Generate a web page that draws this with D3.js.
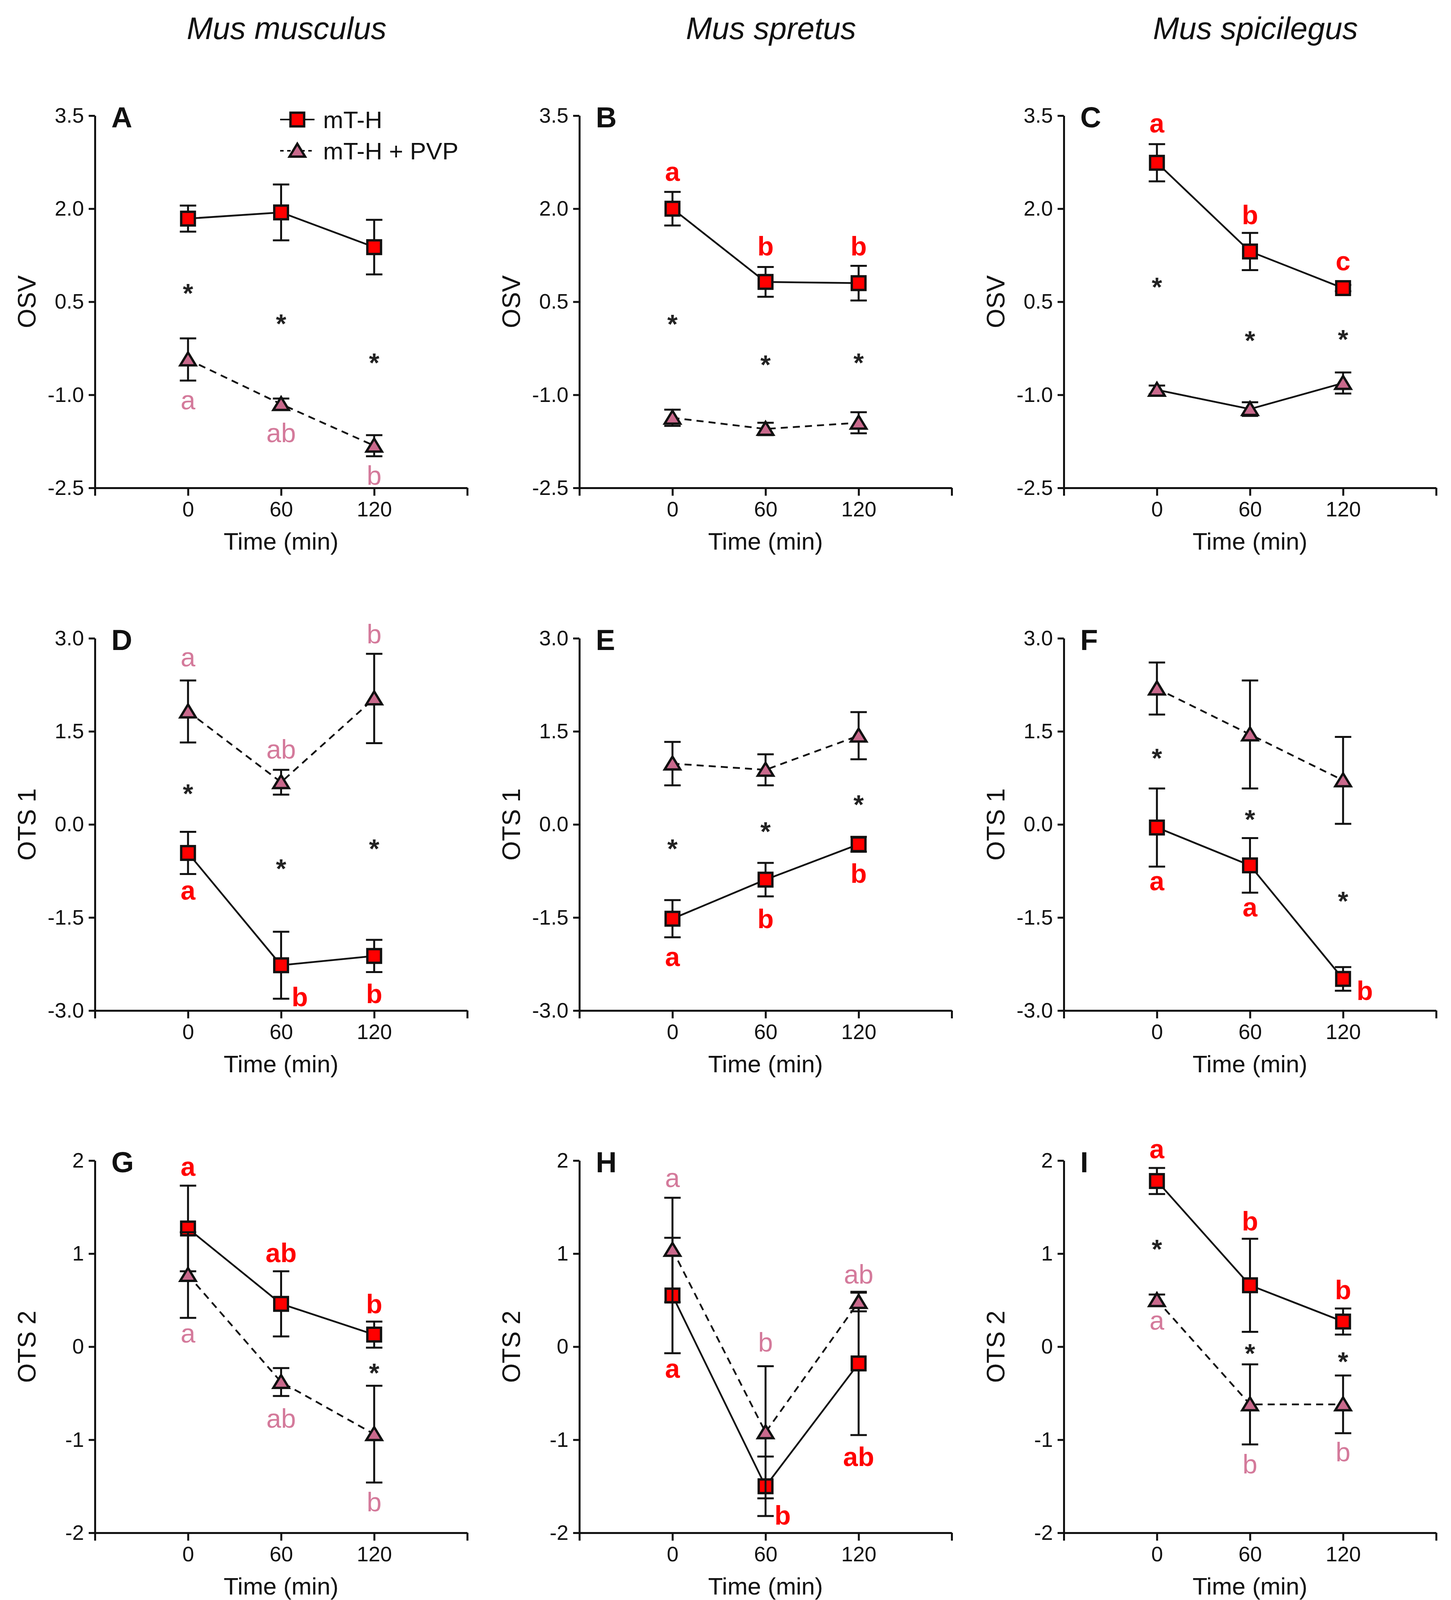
<!DOCTYPE html>
<html>
<head>
<meta charset="utf-8">
<script src="https://cdn.jsdelivr.net/npm/d3@7"></script>
<style>
  body { margin: 0; background: #fff; }
  text { font-family: 'Liberation Sans', Arial, sans-serif; }
</style>
</head>
<body>
<div id="box-div"></div>
<script>
// ---- data ----
const times = [0, 60, 120]
const speciesTitles = ['Mus musculus', 'Mus spretus', 'Mus spicilegus']
const rowMeasures = ['OSV', 'OTS 1', 'OTS 2']
const rowDomains = [[-2.5, 3.5], [-3, 3], [-2, 2]]
const rowTicks = [[-2.5, -1.0, 0.5, 2.0, 3.5], [-3.0, -1.5, 0.0, 1.5, 3.0], [-2, -1, 0, 1, 2]]
const rowTickFormat = ['.1f', '.1f', 'd']
const xTicks = [-60, 0, 60, 120, 180]
const xTickLabels = ['', '0', '60', '120', '']
const panelLetters = ['A', 'B', 'C', 'D', 'E', 'F', 'G', 'H', 'I']
const seriesNames = ['mT-H', 'mT-H + PVP']

// mT-H (squares), mean and error per panel
const mthMean = [
  [1.84, 1.94, 1.38], [2.00, 0.82, 0.80], [2.74, 1.31, 0.72],
  [-0.46, -2.27, -2.12], [-1.52, -0.89, -0.32], [-0.05, -0.66, -2.49],
  [1.27, 0.46, 0.13], [0.55, -1.50, -0.18], [1.78, 0.66, 0.27]
]
const mthErr = [
  [0.21, 0.45, 0.44], [0.27, 0.24, 0.28], [0.30, 0.30, 0.05],
  [0.34, 0.54, 0.26], [0.30, 0.27, 0.12], [0.63, 0.44, 0.19],
  [0.46, 0.35, 0.14], [0.62, 0.32, 0.77], [0.14, 0.50, 0.14]
]
// mT-H + PVP (triangles)
const pvpMean = [
  [-0.43, -1.15, -1.82], [-1.37, -1.55, -1.45], [-0.92, -1.23, -0.81],
  [1.82, 0.68, 2.03], [0.98, 0.88, 1.43], [2.19, 1.45, 0.71],
  [0.77, -0.38, -0.94], [1.04, -0.92, 0.48], [0.50, -0.62, -0.62]
]
const pvpErr = [
  [0.34, 0.09, 0.17], [0.13, 0.10, 0.17], [0.07, 0.11, 0.17],
  [0.50, 0.20, 0.72], [0.35, 0.25, 0.38], [0.42, 0.87, 0.70],
  [0.46, 0.15, 0.52], [0.56, 0.71, 0.10], [0.06, 0.43, 0.31]
]
const pvpDashed = [true, true, false, true, true, true, true, true, true]

// significance stars: [time, value]
const starMarks = [
  [[0, 0.73], [60, 0.24], [120, -0.39]],
  [[0, 0.23], [60, -0.42], [120, -0.39]],
  [[0, 0.83], [60, -0.03], [120, -0.01]],
  [[0, 0.59], [60, -0.62], [120, -0.30]],
  [[0, -0.30], [60, -0.02], [120, 0.41]],
  [[0, 1.16], [60, 0.17], [120, -1.14]],
  [[120, -0.22]],
  [],
  [[0, 1.11], [60, -0.01], [120, -0.10]]
]

// group letters: [time, value, text, series]  (series 0 = mT-H red, 1 = PVP pink)
const letterMarks = [
  [[0, -1.12, 'a', 1], [60, -1.61, 'ab', 1], [120, -2.30, 'b', 1]],
  [[0, 2.56, 'a', 0], [60, 1.40, 'b', 0], [120, 1.40, 'b', 0]],
  [[0, 3.34, 'a', 0], [60, 1.90, 'b', 0], [120, 1.12, 'c', 0]],
  [[0, 2.66, 'a', 1], [60, 1.21, 'ab', 1], [120, 3.07, 'b', 1],
   [0, -1.10, 'a', 0], [72, -2.78, 'b', 0], [120, -2.73, 'b', 0]],
  [[0, -2.17, 'a', 0], [60, -1.52, 'b', 0], [120, -0.79, 'b', 0]],
  [[0, -0.95, 'a', 0], [60, -1.37, 'a', 0], [134, -2.68, 'b', 0]],
  [[0, 1.91, 'a', 0], [60, 1.01, 'ab', 0], [120, 0.46, 'b', 0],
   [0, 0.12, 'a', 1], [60, -0.77, 'ab', 1], [120, -1.67, 'b', 1]],
  [[0, 1.79, 'a', 1], [60, 0.05, 'b', 1], [120, 0.78, 'ab', 1],
   [0, -0.26, 'a', 0], [71, -1.81, 'b', 0], [120, -1.18, 'ab', 0]],
  [[0, 2.10, 'a', 0], [60, 1.35, 'b', 0], [120, 0.61, 'b', 0],
   [0, 0.26, 'a', 1], [60, -1.26, 'b', 1], [120, -1.13, 'b', 1]]
]

// ---- layout ----
const dms = {
    width: 3714,
    height: 4120,
    colLeft: [243, 1483, 2723],
    rowTop: [296, 1634, 2971],
    plotW: 953,
    plotH: 953
}

const red = '#ff0000'
const triFill = '#c9698c'
const pinkText = '#d47a9b'
const ink = '#111'

// plain hyphen for negative tick labels, as in the figure
const plainLocale = d3.formatLocale({
    decimal: '.', thousands: ',', grouping: [3], currency: ['', ''], minus: '-'
})

const box = d3.select('#box-div').append('svg')
    .attr('id', 'box')
    .attr('width', dms.width)
    .attr('height', dms.height)
    .style('background', '#fff')

box.selectAll('.species')
    .data(speciesTitles)
    .join('text')
    .attr('class', 'species')
    .attr('x', (d, i) => dms.colLeft[i] + dms.plotW / 2 + 14)
    .attr('y', 100)
    .attr('text-anchor', 'middle')
    .style('font-size', '80px')
    .style('font-style', 'italic')
    .style('fill', ink)
    .text(d => d)

const xScale = d3.scaleLinear()
    .domain([-60, 180])
    .range([0, dms.plotW])

function drawMarker(sel, kind) {
    if (kind === 0) {
        sel.append('rect')
            .attr('x', -17.5).attr('y', -17.5)
            .attr('width', 35).attr('height', 35)
            .style('fill', red)
            .style('stroke', ink)
            .style('stroke-width', 6)
    } else {
        sel.append('path')
            .attr('d', 'M0,-18L20,15L-20,15Z')
            .style('fill', triFill)
            .style('stroke', ink)
            .style('stroke-width', 6)
    }
}

function drawPanel(i) {
    const row = Math.floor(i / 3)
    const col = i % 3

    const panel = box.append('g')
        .attr('id', 'panel-' + panelLetters[i])
        .attr('transform', `translate(${dms.colLeft[col]},${dms.rowTop[row]})`)

    const yScale = d3.scaleLinear()
        .domain(rowDomains[row])
        .range([dms.plotH, 0])

    // axes
    const yAxisGen = d3.axisLeft(yScale)
        .tickValues(rowTicks[row])
        .tickFormat(plainLocale.format(rowTickFormat[row]))
        .tickSizeInner(16)
        .tickSizeOuter(0)
        .tickPadding(12)

    const xAxisGen = d3.axisBottom(xScale)
        .tickValues(xTicks)
        .tickFormat((d, k) => xTickLabels[k])
        .tickSizeInner(20)
        .tickSizeOuter(0)
        .tickPadding(15)

    const yAxis = panel.append('g').call(yAxisGen)
    const xAxis = panel.append('g')
        .attr('transform', `translate(0,${dms.plotH})`)
        .call(xAxisGen)

    for (const ax of [yAxis, xAxis]) {
        ax.selectAll('path, line')
            .style('stroke', ink)
            .style('stroke-width', 5)
        ax.selectAll('text')
            .style('font-size', '54px')
            .style('font-family', "'Liberation Sans', Arial, sans-serif")
            .style('fill', ink)
    }

    panel.append('text')
        .attr('transform', `translate(${68 - dms.colLeft[0]},${dms.plotH / 2}) rotate(-90)`)
        .attr('text-anchor', 'middle')
        .attr('dy', '0.36em')
        .style('font-size', '64px')
        .style('fill', ink)
        .text(rowMeasures[row])

    panel.append('text')
        .attr('x', xScale(60))
        .attr('y', dms.plotH + 158)
        .attr('text-anchor', 'middle')
        .style('font-size', '62px')
        .style('fill', ink)
        .text('Time (min)')

    panel.append('text')
        .attr('x', 42)
        .attr('y', 30)
        .style('font-size', '74px')
        .style('font-weight', 'bold')
        .style('fill', ink)
        .text(panelLetters[i])

    // series: mT-H first, PVP on top
    const series = [
        { mean: mthMean[i], err: mthErr[i], dashed: false, kind: 0 },
        { mean: pvpMean[i], err: pvpErr[i], dashed: pvpDashed[i], kind: 1 }
    ]

    const lineGen = d3.line()
        .x(d => xScale(d.t))
        .y(d => yScale(d.v))

    series.forEach(s => {
        const pts = times.map((t, k) => ({ t: t, v: s.mean[k], e: s.err[k] }))
        const g = panel.append('g')

        const bars = g.selectAll('.err')
            .data(pts)
            .join('g')
            .attr('class', 'err')
            .style('stroke', ink)
            .style('stroke-width', 5)

        bars.append('line')
            .attr('x1', d => xScale(d.t)).attr('x2', d => xScale(d.t))
            .attr('y1', d => yScale(d.v - d.e)).attr('y2', d => yScale(d.v + d.e))
        bars.append('line')
            .attr('x1', d => xScale(d.t) - 21).attr('x2', d => xScale(d.t) + 21)
            .attr('y1', d => yScale(d.v + d.e)).attr('y2', d => yScale(d.v + d.e))
        bars.append('line')
            .attr('x1', d => xScale(d.t) - 21).attr('x2', d => xScale(d.t) + 21)
            .attr('y1', d => yScale(d.v - d.e)).attr('y2', d => yScale(d.v - d.e))

        g.append('path')
            .datum(pts)
            .attr('d', lineGen)
            .style('fill', 'none')
            .style('stroke', ink)
            .style('stroke-width', 4.5)
            .style('stroke-dasharray', s.dashed ? '18,13' : null)

        g.selectAll('.marker')
            .data(pts)
            .join('g')
            .attr('class', 'marker')
            .attr('transform', d => `translate(${xScale(d.t)},${yScale(d.v)})`)
            .each(function () { drawMarker(d3.select(this), s.kind) })
    })

    // stars
    panel.selectAll('.star')
        .data(starMarks[i])
        .join('text')
        .attr('class', 'star')
        .attr('x', d => xScale(d[0]))
        .attr('y', d => yScale(d[1]) + 38)
        .attr('text-anchor', 'middle')
        .style('font-size', '68px')
        .style('font-weight', 'bold')
        .style('fill', '#222')
        .text('*')

    // group letters
    panel.selectAll('.grp')
        .data(letterMarks[i])
        .join('text')
        .attr('class', 'grp')
        .attr('x', d => xScale(d[0]))
        .attr('y', d => yScale(d[1]) + (d[2].includes('b') ? 24 : 18))
        .attr('text-anchor', 'middle')
        .style('font-size', '68px')
        .style('font-weight', d => d[3] === 0 ? 'bold' : 'normal')
        .style('fill', d => d[3] === 0 ? red : pinkText)
        .text(d => d[2])

    if (i === 0) drawLegend(panel)
}

function drawLegend(panel) {
    const leg = panel.append('g').attr('id', 'legend')
    seriesNames.forEach((name, k) => {
        const y = 10 + k * 80
        leg.append('line')
            .attr('x1', 474).attr('x2', 562)
            .attr('y1', y).attr('y2', y)
            .style('stroke', ink)
            .style('stroke-width', 4)
            .style('stroke-dasharray', k === 1 ? '9,9' : null)
        const m = leg.append('g').attr('transform', `translate(518,${y})`)
        drawMarker(m, k)
        leg.append('text')
            .attr('x', 584)
            .attr('y', y + 22)
            .style('font-size', '62px')
            .style('fill', ink)
            .text(name)
    })
}

panelLetters.forEach((l, i) => drawPanel(i))
</script>
</body>
</html>
